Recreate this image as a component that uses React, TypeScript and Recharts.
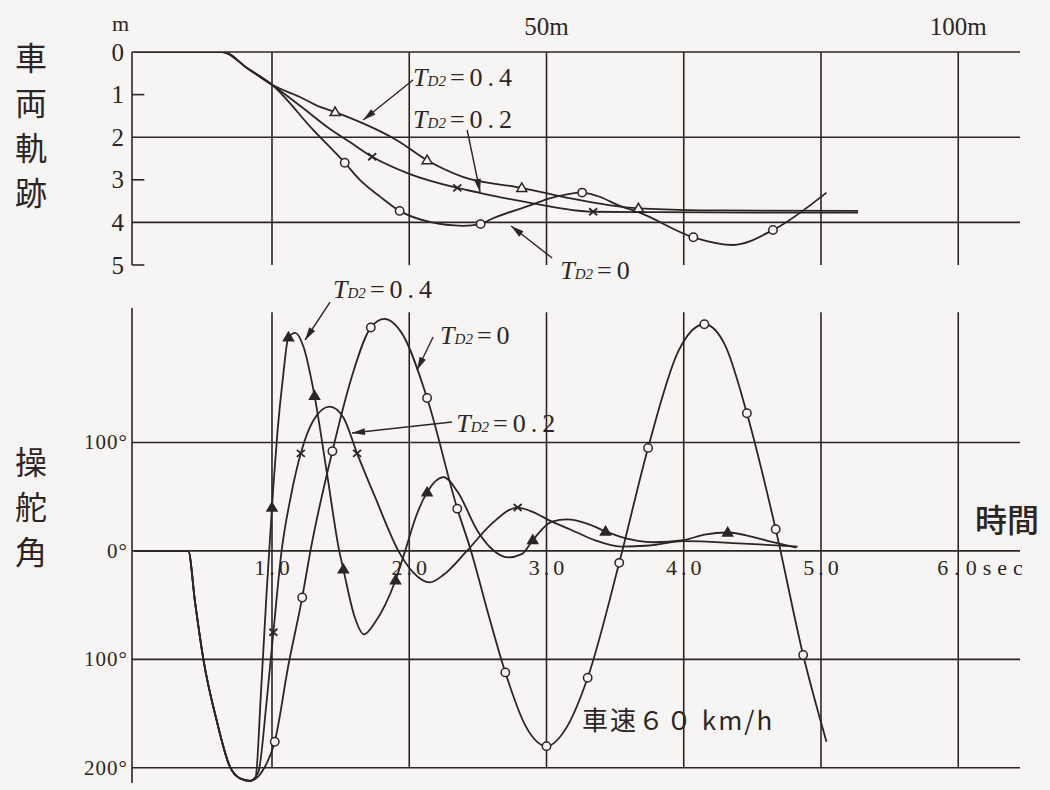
import React from 'react';
import { ComposedChart, Line, Scatter, XAxis, YAxis, ReferenceLine, ReferenceDot } from 'recharts';

const BG = '#f6f5f3';
const INK = '#2d2525';
const SERIF = '"Liberation Serif", "DejaVu Serif", serif';
const JP = '"Noto Sans CJK JP", sans-serif';

// time axis, seconds (top panel also shows distance at 60 km/h)
const T_MIN = -0.02;
const T_MAX = 6.45;
const timeTicks = [1, 2, 3, 4, 5, 6];
const timeLabels = ['1.0', '2.0', '3.0', '4.0', '5.0', '6.0sec'];
const distTicks = [3, 6];
const distLabels = ['50m', '100m'];

// 車両軌跡 (m), drawn downward
const trajTicks = [0, 1, 2, 3, 4, 5];
const trajGrid = [0, 2, 4];
const trajMinor = [1, 3, 5];

const trajTd0: [number, number][] = [
  [0, 0], [0.64, 0], [0.82, 0.38], [1.0, 0.77], [1.3, 1.83], [1.53, 2.6], [1.64, 3.0], [1.79, 3.4],
  [1.93, 3.73], [2.15, 3.99], [2.39, 4.08], [2.52, 4.04], [2.6, 3.92], [2.88, 3.6], [3.03, 3.43],
  [3.26, 3.3], [3.37, 3.38], [3.54, 3.62], [3.67, 3.76], [4.07, 4.35], [4.36, 4.53], [4.65, 4.18], [5.04, 3.3],
];
const trajTd2: [number, number][] = [
  [0, 0], [0.64, 0], [0.82, 0.38], [1.0, 0.77], [1.2, 1.25], [1.42, 1.8], [1.57, 2.12], [1.73, 2.46],
  [2.0, 2.86], [2.35, 3.19], [2.52, 3.31], [2.88, 3.54], [3.34, 3.75], [3.8, 3.76], [4.5, 3.77], [5.27, 3.77],
];
const trajTd4: [number, number][] = [
  [0, 0], [0.64, 0], [0.82, 0.38], [1.0, 0.77], [1.2, 1.05], [1.35, 1.29], [1.46, 1.41], [1.66, 1.67],
  [1.91, 2.07], [2.13, 2.54], [2.39, 2.93], [2.82, 3.19], [3.12, 3.4], [3.67, 3.67], [4.3, 3.72], [5.27, 3.73],
];
const trajMarks0: [number, number][] = [[1.53, 2.6], [1.93, 3.73], [2.52, 4.04], [3.26, 3.3], [4.07, 4.35], [4.65, 4.18]];
const trajMarks2: [number, number][] = [[1.73, 2.46], [2.35, 3.19], [3.34, 3.75]];
const trajMarks4: [number, number][] = [[1.46, 1.41], [2.13, 2.54], [2.82, 3.19], [3.67, 3.67]];

// 操舵角 (deg)
const angleTicks = [-200, -100, 0, 100];

const steerStart: [number, number][] = [
  [0, 0], [0.39, 0], [0.44, -48], [0.5, -100], [0.6, -158], [0.69, -198], [0.77, -210], [0.84, -212],
];
const steerTd0: [number, number][] = [
  ...steerStart,
  [0.93, -203], [1.02, -176], [1.12, -105], [1.22, -43], [1.28, 0], [1.44, 92], [1.58, 160], [1.72, 206],
  [1.82, 214], [1.95, 200], [2.13, 141], [2.35, 39], [2.45, 0], [2.58, -60], [2.7, -112], [2.85, -162],
  [3.0, -180], [3.15, -162], [3.3, -117], [3.53, -11], [3.74, 95], [3.96, 184], [4.15, 209], [4.3, 190],
  [4.46, 127], [4.67, 20], [4.87, -96], [5.04, -176],
];
const steerTd2: [number, number][] = [
  ...steerStart,
  [0.9, -204], [0.96, -140], [1.01, -75], [1.07, 0], [1.14, 52], [1.21, 90], [1.3, 120], [1.42, 133],
  [1.52, 123], [1.62, 90], [1.75, 50], [1.93, -2], [2.03, -20], [2.15, -29], [2.25, -22], [2.42, 0],
  [2.6, 25], [2.79, 40], [2.88, 37], [3.04, 27], [3.17, 20], [3.35, 10], [3.54, 4], [3.75, 5], [4.0, 9],
  [4.4, 7], [4.83, 4],
];
const steerTd4: [number, number][] = [
  ...steerStart,
  [0.88, -209], [0.92, -130], [0.96, -40], [0.99, 20], [1.01, 60], [1.04, 110], [1.08, 160], [1.12, 197],
  [1.17, 201], [1.23, 188], [1.31, 143], [1.4, 72], [1.49, 0], [1.52, -17], [1.6, -60], [1.67, -77],
  [1.75, -66], [1.9, -27], [1.97, 0], [2.05, 32], [2.13, 54], [2.25, 68], [2.35, 55], [2.5, 18], [2.6, 2],
  [2.72, -6], [2.82, -3], [2.9, 10], [3.04, 27], [3.15, 29], [3.3, 25], [3.43, 18], [3.54, 13], [3.78, 8],
  [4.0, 10], [4.15, 15], [4.32, 17], [4.5, 13], [4.65, 8], [4.82, 3],
];
const steerMarks0: [number, number][] = [
  [1.02, -176], [1.22, -43], [1.44, 92], [1.72, 206], [2.13, 141], [2.35, 39], [2.7, -112], [3.0, -180],
  [3.3, -117], [3.53, -11], [3.74, 95], [4.15, 209], [4.46, 127], [4.67, 20], [4.87, -96],
];
const steerMarks2: [number, number][] = [[1.01, -75], [1.21, 90], [1.62, 90], [2.79, 40]];
const steerMarks4: [number, number][] = [
  [1.0, 40], [1.12, 197], [1.31, 143], [1.52, -17], [1.9, -27], [2.13, 54], [2.9, 10], [3.43, 18], [4.32, 17],
];

// annotation anchors in data units: [t, value, TD2 value]
const trajNotes: [number, number, string][] = [[2.028, 0.8, '0.4'], [2.028, 1.78, '0.2'], [3.1, 5.33, '0']];
const trajLeaders: [number, number, number, number][] = [
  [2.028, 0.657, 1.664, 1.596], [2.422, 1.831, 2.516, 3.286], [3.041, 4.836, 2.742, 4.085],
];
const steerNotes: [number, number, string][] = [[1.445, 233, '0.4'], [2.225, 191, '0'], [2.342, 110, '0.2']];
const steerLeaders: [number, number, number, number][] = [
  [1.423, 229.5, 1.241, 194.5], [2.174, 197.3, 2.057, 166.8], [2.312, 118.9, 1.583, 108.7],
];

const pts = (a: [number, number][]) => a.map(([t, v]) => ({ t, v }));

const OpenCircle = (p: any) => (
  <circle cx={p.cx} cy={p.cy} r={4.2} fill={BG} stroke={INK} strokeWidth={1.5} />
);
const makeTriangle = (filled: boolean) => (p: any) => (
  <path
    d={`M${p.cx},${p.cy - 5}L${p.cx + 5},${p.cy + 3.5}L${p.cx - 5},${p.cy + 3.5}Z`}
    fill={filled ? INK : BG}
    stroke={INK}
    strokeWidth={1.5}
  />
);
const XMark = (p: any) => (
  <path
    d={`M${p.cx - 4},${p.cy - 3.5}L${p.cx + 4},${p.cy + 3.5}M${p.cx + 4},${p.cy - 3.5}L${p.cx - 4},${p.cy + 3.5}`}
    stroke={INK}
    strokeWidth={1.8}
  />
);

const Leader = (p: any) => {
  const { x1, y1, x2, y2 } = p;
  const a = Math.atan2(y2 - y1, x2 - x1);
  const bx = x2 - 13 * Math.cos(a);
  const by = y2 - 13 * Math.sin(a);
  const nx = -Math.sin(a) * 3.5;
  const ny = Math.cos(a) * 3.5;
  return (
    <g>
      <line x1={x1} y1={y1} x2={x2} y2={y2} stroke={INK} strokeWidth={1.4} />
      <path d={`M${x2},${y2}L${bx + nx},${by + ny}L${bx - nx},${by - ny}Z`} fill={INK} />
    </g>
  );
};

const tdLabel = (val: string) => (p: any) => (
  <text x={p.viewBox.x} y={p.viewBox.y} fill={INK} fontFamily={SERIF} fontSize={26}>
    <tspan fontStyle="italic">T</tspan>
    <tspan fontStyle="italic" fontSize={15}>D2</tspan>
    <tspan dx={4} letterSpacing={5}>={val}</tspan>
  </text>
);

const timeLabel = (i: number) => (p: any) => {
  const last = i === timeLabels.length - 1;
  return (
    <text
      x={p.viewBox.x + (last ? -21 : 2)}
      y={p.viewBox.y + 24}
      textAnchor={last ? 'start' : 'middle'}
      fill={INK}
      fontFamily={SERIF}
      fontSize={22}
      letterSpacing={last ? 6 : 4}
    >
      {timeLabels[i]}
    </text>
  );
};

const trajTick = (p: any) => (
  <text x={p.x} y={p.y} textAnchor="end" dominantBaseline="central" fill={INK} fontFamily={SERIF} fontSize={25}>
    {p.payload.value}
  </text>
);
const angleTick = (p: any) => (
  <text x={p.x} y={p.y} textAnchor="end" dominantBaseline="central" fill={INK} fontFamily={SERIF} fontSize={21} letterSpacing={1}>
    {`${Math.abs(p.payload.value)}°`}
  </text>
);
const distTick = (p: any) => (
  <text x={p.x} y={p.y} textAnchor="middle" fill={INK} fontFamily={SERIF} fontSize={25}>
    {distLabels[distTicks.indexOf(p.payload.value)]}
  </text>
);

const curve = (key: string, data: [number, number][]) => (
  <Line
    key={key}
    data={pts(data)}
    dataKey="v"
    type="monotone"
    stroke={INK}
    strokeWidth={1.8}
    dot={false}
    activeDot={false}
    isAnimationActive={false}
  />
);

const vertText: React.CSSProperties = {
  position: 'absolute',
  writingMode: 'vertical-rl',
  fontFamily: JP,
  fontSize: 32,
  letterSpacing: 13,
  lineHeight: 1,
  color: INK,
};

export default function App() {
  return (
    <div style={{ position: 'absolute', left: 0, top: 0, width: 1050, height: 790, background: BG, overflow: 'hidden' }}>
      <div style={{ ...vertText, left: 15, top: 42 }}>車両軌跡</div>
      <div style={{ ...vertText, left: 15, top: 446 }}>操舵角</div>
      <div style={{ position: 'absolute', left: 112, top: 11, fontFamily: SERIF, fontSize: 22, color: INK }}>m</div>
      <div style={{ position: 'absolute', left: 975, top: 502, fontFamily: JP, fontSize: 32, fontWeight: 500, lineHeight: 1, color: INK }}>時間</div>
      <div style={{ position: 'absolute', left: 582, top: 706, fontFamily: JP, fontSize: 26, lineHeight: 1, letterSpacing: 2, color: INK }}>車速６０ km/h</div>

      <div style={{ position: 'absolute', left: 0, top: 0 }}>
        <ComposedChart width={1050} height={290} margin={{ top: 22, right: 30, bottom: 25, left: 92 }}>
          <XAxis type="number" dataKey="t" domain={[T_MIN, T_MAX]} allowDataOverflow orientation="top" ticks={distTicks}
            tick={distTick} tickLine={false} axisLine={false} tickSize={0} tickMargin={17} height={30} />
          <YAxis type="number" dataKey="v" domain={[0, 5]} allowDataOverflow reversed ticks={trajTicks} width={40}
            tick={trajTick} tickLine={false} tickSize={0} tickMargin={8} axisLine={{ stroke: INK, strokeWidth: 1.6 }} />
          {trajGrid.map((v) => <ReferenceLine key={`h${v}`} y={v} stroke={INK} strokeWidth={1.6} />)}
          {trajMinor.map((v) => (
            <ReferenceLine key={`m${v}`} segment={[{ x: T_MIN, y: v }, { x: 0.07, y: v }]} stroke={INK} strokeWidth={1.6} />
          ))}
          {timeTicks.map((t) => <ReferenceLine key={`v${t}`} x={t} stroke={INK} strokeWidth={1.6} />)}
          {curve('td0', trajTd0)}
          {curve('td2', trajTd2)}
          {curve('td4', trajTd4)}
          <Scatter data={pts(trajMarks0)} dataKey="v" shape={OpenCircle} isAnimationActive={false} />
          <Scatter data={pts(trajMarks2)} dataKey="v" shape={XMark} isAnimationActive={false} />
          <Scatter data={pts(trajMarks4)} dataKey="v" shape={makeTriangle(false)} isAnimationActive={false} />
          {trajLeaders.map(([t1, v1, t2, v2], i) => (
            <ReferenceLine key={`l${i}`} segment={[{ x: t1, y: v1 }, { x: t2, y: v2 }]} shape={Leader} ifOverflow="visible" />
          ))}
          {trajNotes.map(([t, v, val]) => (
            <ReferenceDot key={`n${val}`} x={t} y={v} r={0} fill="none" stroke="none" ifOverflow="visible" label={tdLabel(val)} />
          ))}
        </ComposedChart>
      </div>

      <div style={{ position: 'absolute', left: 0, top: 260 }}>
        <ComposedChart width={1050} height={530} margin={{ top: 48, right: 30, bottom: 7, left: 92 }}>
          <XAxis type="number" dataKey="t" domain={[T_MIN, T_MAX]} allowDataOverflow hide />
          <YAxis type="number" dataKey="v" domain={[-214, 224]} allowDataOverflow ticks={angleTicks} width={40}
            tick={angleTick} tickLine={false} tickSize={0} tickMargin={4} axisLine={{ stroke: INK, strokeWidth: 1.6 }} />
          {angleTicks.map((v) => <ReferenceLine key={`h${v}`} y={v} stroke={INK} strokeWidth={1.6} />)}
          {timeTicks.map((t) => (
            <ReferenceLine key={`v${t}`} segment={[{ x: t, y: -200 }, { x: t, y: 220 }]} stroke={INK} strokeWidth={1.6} />
          ))}
          {curve('s0', steerTd0)}
          {curve('s2', steerTd2)}
          {curve('s4', steerTd4)}
          <Scatter data={pts(steerMarks0)} dataKey="v" shape={OpenCircle} isAnimationActive={false} />
          <Scatter data={pts(steerMarks2)} dataKey="v" shape={XMark} isAnimationActive={false} />
          <Scatter data={pts(steerMarks4)} dataKey="v" shape={makeTriangle(true)} isAnimationActive={false} />
          {timeTicks.map((t, i) => (
            <ReferenceDot key={`tl${t}`} x={t} y={0} r={0} fill="none" stroke="none" label={timeLabel(i)} />
          ))}
          {steerLeaders.map(([t1, v1, t2, v2], i) => (
            <ReferenceLine key={`l${i}`} segment={[{ x: t1, y: v1 }, { x: t2, y: v2 }]} shape={Leader} ifOverflow="visible" />
          ))}
          {steerNotes.map(([t, v, val]) => (
            <ReferenceDot key={`n${val}`} x={t} y={v} r={0} fill="none" stroke="none" ifOverflow="visible" label={tdLabel(val)} />
          ))}
        </ComposedChart>
      </div>
    </div>
  );
}
